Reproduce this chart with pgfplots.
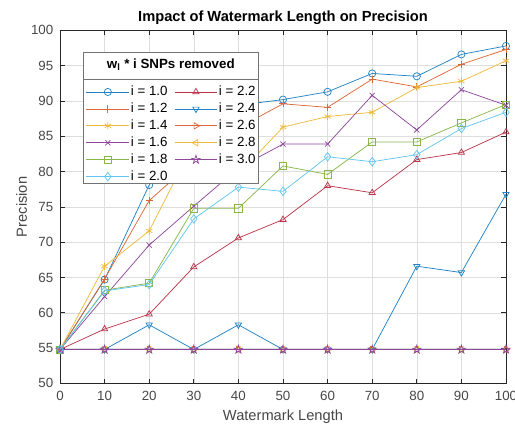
\documentclass[border=0pt]{standalone}
\usepackage{fontspec}
\setmainfont{Liberation Sans}
\usepackage{pgfplots}
\usepackage{pgfplotstable}
\pgfplotsset{compat=1.18}
\definecolor{m1}{rgb}{0,0.447,0.741}
\definecolor{m2}{rgb}{0.85,0.325,0.098}
\definecolor{m3}{rgb}{0.929,0.694,0.125}
\definecolor{m4}{rgb}{0.494,0.184,0.556}
\definecolor{m5}{rgb}{0.466,0.674,0.188}
\definecolor{m6}{rgb}{0.301,0.745,0.933}
\definecolor{m7}{rgb}{0.70,0.10,0.20}
\definecolor{axgray}{rgb}{0.15,0.15,0.15}
\pgfdeclareplotmark{pentagram}{%
  \pgfpathmoveto{\pgfpointpolar{90}{1.2\pgfplotmarksize}}%
  \pgfpathlineto{\pgfpointpolar{126}{0.46\pgfplotmarksize}}%
  \pgfpathlineto{\pgfpointpolar{162}{1.2\pgfplotmarksize}}%
  \pgfpathlineto{\pgfpointpolar{198}{0.46\pgfplotmarksize}}%
  \pgfpathlineto{\pgfpointpolar{234}{1.2\pgfplotmarksize}}%
  \pgfpathlineto{\pgfpointpolar{270}{0.46\pgfplotmarksize}}%
  \pgfpathlineto{\pgfpointpolar{306}{1.2\pgfplotmarksize}}%
  \pgfpathlineto{\pgfpointpolar{342}{0.46\pgfplotmarksize}}%
  \pgfpathlineto{\pgfpointpolar{18}{1.2\pgfplotmarksize}}%
  \pgfpathlineto{\pgfpointpolar{54}{0.46\pgfplotmarksize}}%
  \pgfpathclose\pgfusepathqstroke}

\pgfplotstableread{
x   a10  a12  a14  a16  a18  a20  a22  a24  a26  a28  a30
0   54.8 54.8 54.8 54.8 54.8 54.8 54.8 54.8 54.8 54.8 54.8
10  64.7 64.8 66.6 62.3 63.2 63.1 57.7 54.8 54.8 54.8 54.8
20  78.1 75.9 71.6 69.6 64.2 64.0 59.8 58.3 54.8 54.8 54.8
30  86.0 81.5 84.0 75.1 74.8 73.3 66.5 54.8 54.8 54.8 54.8
40  89.4 86.2 79.6 80.5 74.8 77.8 70.6 58.3 54.8 54.8 54.8
50  90.2 89.6 86.3 83.9 80.8 77.2 73.2 54.8 54.8 54.8 54.8
60  91.3 89.1 87.8 83.9 79.6 82.1 78.0 54.8 54.8 54.8 54.8
70  93.9 93.1 88.4 90.8 84.2 81.4 77.0 54.8 54.8 54.8 54.8
80  93.5 92.0 91.9 85.9 84.2 82.4 81.7 66.6 54.8 54.8 54.8
90  96.6 95.2 92.8 91.6 86.9 86.1 82.7 65.7 54.8 54.8 54.8
100 97.8 97.3 95.7 89.4 89.5 88.4 85.6 76.8 54.8 54.8 54.8
}\datatable

\begin{document}
\begin{tikzpicture}
\begin{axis}[
  scale only axis, width=334.5pt, height=264.75pt,
  xmin=0, xmax=100, ymin=50, ymax=100,
  clip=false, clip marker paths=true,
  xtick={0,10,...,100}, ytick={50,55,...,100},
  grid=major, major grid style={draw=black!13, line width=0.4pt},
  tick align=inside, major tick length=3.5pt,
  axis line style={draw=axgray, line width=0.5pt},
  every tick/.style={axgray, line width=0.5pt},
  tick label style={font=\fontsize{10}{12}\selectfont, text=axgray!85},
  /pgf/number format/assume math mode=true,
  xticklabel shift=2.5pt, yticklabel shift=1.5pt,
  xlabel={Watermark Length}, ylabel={Precision},
  label style={font=\fontsize{11}{13}\selectfont, text=axgray!85},
  xlabel style={at={(axis description cs:0.5,-0.0937)}, anchor=center},
  ylabel style={at={(axis description cs:-0.0858,0.5)}, anchor=center},
  title={\textbf{Impact of Watermark Length on Precision}},
  every axis title shift=0pt,
  title style={font=\fontsize{11}{13}\selectfont, text=black, at={(axis description cs:0.5,1.036)}, anchor=center},
  every axis plot/.append style={line width=0.55pt, mark size=2.7pt, mark options={solid}},
  legend columns=2, legend cell align=left,
  legend image code/.code={\draw[mark repeat=2,mark phase=2] plot coordinates {(0pt,0pt) (16pt,0pt) (32pt,0pt)};},
  legend style={at={(rel axis cs:0.058,0.848)}, anchor=north west, draw=none, fill=none,
    inner sep=0pt, font=\fontsize{10}{12}\selectfont, row sep=1.2pt,
    nodes={inner sep=1pt, text height=7.5pt, text depth=2pt},
    /tikz/every even column/.append style={column sep=4pt}},
]
\addplot[m1!88, mark=o] table[x=x,y=a10]{\datatable};
\addlegendentry{i = 1.0}
\addplot[m7!88, mark=triangle] table[x=x,y=a22]{\datatable};
\addlegendentry{i = 2.2}
\addplot[m2!88, mark=+] table[x=x,y=a12]{\datatable};
\addlegendentry{i = 1.2}
\addplot[m1!88, mark=triangle, mark options={rotate=180}] table[x=x,y=a24]{\datatable};
\addlegendentry{i = 2.4}
\addplot[m3!88, mark=asterisk] table[x=x,y=a14]{\datatable};
\addlegendentry{i = 1.4}
\addplot[m2!88, mark=triangle, mark options={rotate=-90}] table[x=x,y=a26]{\datatable};
\addlegendentry{i = 2.6}
\addplot[m4!88, mark=x] table[x=x,y=a16]{\datatable};
\addlegendentry{i = 1.6}
\addplot[m3!88, mark=triangle, mark options={rotate=90}] table[x=x,y=a28]{\datatable};
\addlegendentry{i = 2.8}
\addplot[m5!88, mark=square] table[x=x,y=a18]{\datatable};
\addlegendentry{i = 1.8}
\addplot[m4!88, mark=pentagram] table[x=x,y=a30]{\datatable};
\addlegendentry{i = 3.0}
\addplot[m6!88, mark=diamond, mark size=3.2pt] table[x=x,y=a20]{\datatable};
\addlegendentry{i = 2.0}
\fill[white] (rel axis cs:0.052,0.567) rectangle (rel axis cs:0.445,0.937);
\draw[black!55, line width=0.5pt] (rel axis cs:0.052,0.567) rectangle (rel axis cs:0.445,0.937);
\draw[black!55, line width=0.5pt] (rel axis cs:0.052,0.8626) -- (rel axis cs:0.445,0.8626);
\node[font=\fontsize{10}{12}\selectfont\bfseries, text=black] at (rel axis cs:0.2485,0.902) {w\textsubscript{l} * i SNPs removed};
\end{axis}
\pgfresetboundingbox
\useasboundingbox ([xshift=-45pt,yshift=-31.1pt]current axis.south west) rectangle ([xshift=6.75pt,yshift=22.8pt]current axis.north east);
\end{tikzpicture}
\end{document}
